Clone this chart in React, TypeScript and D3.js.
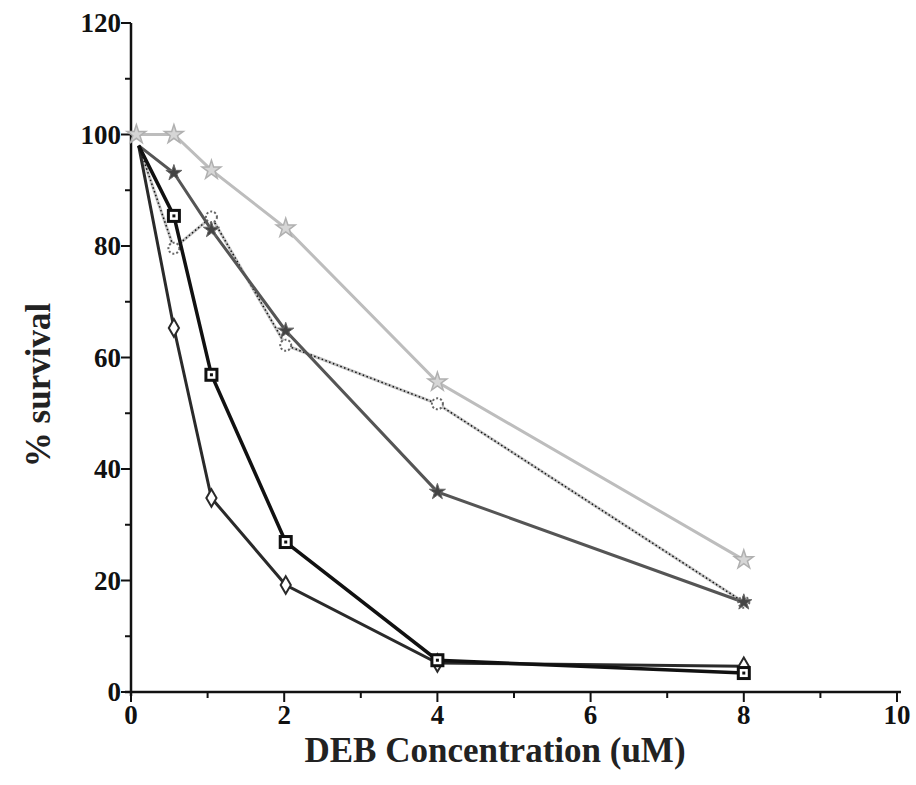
import React, { useEffect, useRef } from "react";
import * as d3 from "d3";

// dose positions (uM)
const dosesMain = [0.1, 0.56, 1.05, 2.02, 4, 8];
const dosesLight = [0.07, 0.56, 1.05, 2.02, 4, 8];

// % survival for each series
const diamondSeries = [98, 65.3, 34.8, 19.2, 5.2, 4.6];
const squareSeries = [98, 85.4, 56.9, 26.9, 5.7, 3.4];
const grayStarSeries = [98, 93.1, 82.9, 64.8, 35.9, 16.1];
const dottedSeries = [98, 79.6, 85.2, 62.2, 51.7, 16.1];
const lightSeries = [100, 100, 93.6, 83.2, 55.6, 23.7];

const xTicks = [0, 2, 4, 6, 8, 10];
const yTicks = [0, 20, 40, 60, 80, 100, 120];

const App = () => {
    const svgRef = useRef<SVGSVGElement>(null);

    useEffect(() => {
        const svg = d3.select(svgRef.current);
        svg.selectAll("*").remove();

        const x = d3.scaleLinear().domain([0, 10]).range([131, 897]);
        const y = d3.scaleLinear().domain([0, 120]).range([692, 23]);
        const font = "'Liberation Serif', 'Times New Roman', serif";

        const toPts = (xs: number[], ys: number[]) => ys.map((v, i) => ({ x: xs[i], y: v }));
        const line = d3
            .line<{ x: number; y: number }>()
            .x((d) => x(d.x))
            .y((d) => y(d.y));

        // axes
        const axisG = svg.append("g");
        axisG
            .append("line")
            .attr("x1", x(0))
            .attr("x2", x(0))
            .attr("y1", y(120))
            .attr("y2", y(0) + 4)
            .attr("stroke", "#111")
            .attr("stroke-width", 2.5);
        axisG
            .append("line")
            .attr("x1", x(0) - 6)
            .attr("x2", x(10) + 4)
            .attr("y1", y(0))
            .attr("y2", y(0))
            .attr("stroke", "#111")
            .attr("stroke-width", 2.5);

        // y ticks (major + minor)
        axisG
            .selectAll(".ytick")
            .data(d3.range(0, 121, 10))
            .join("line")
            .attr("x1", (d) => x(0) - (d % 20 === 0 ? 10 : 6))
            .attr("x2", x(0))
            .attr("y1", (d) => y(d))
            .attr("y2", (d) => y(d))
            .attr("stroke", "#111")
            .attr("stroke-width", 2);
        axisG
            .selectAll(".ylab")
            .data(yTicks)
            .join("text")
            .attr("x", x(0) - 10)
            .attr("y", (d) => y(d))
            .attr("dy", "0.35em")
            .attr("text-anchor", "end")
            .attr("font-family", font)
            .attr("font-weight", "bold")
            .attr("font-size", 27)
            .attr("fill", "#111")
            .text((d) => d);

        // x ticks (major + minor)
        axisG
            .selectAll(".xtick")
            .data(d3.range(0, 11, 1))
            .join("line")
            .attr("x1", (d) => x(d))
            .attr("x2", (d) => x(d))
            .attr("y1", y(0))
            .attr("y2", (d) => y(0) + (d % 2 === 0 ? 10 : 6))
            .attr("stroke", "#111")
            .attr("stroke-width", 2);
        axisG
            .selectAll(".xlab")
            .data(xTicks)
            .join("text")
            .attr("x", (d) => x(d))
            .attr("y", y(0) + 32)
            .attr("text-anchor", "middle")
            .attr("font-family", font)
            .attr("font-weight", "bold")
            .attr("font-size", 27)
            .attr("fill", "#111")
            .text((d) => d);

        // axis titles
        svg.append("text")
            .attr("x", 495)
            .attr("y", 762)
            .attr("text-anchor", "middle")
            .attr("font-family", font)
            .attr("font-weight", "bold")
            .attr("font-size", 35)
            .attr("fill", "#222")
            .text("DEB Concentration (uM)");
        svg.append("text")
            .attr("transform", "translate(50,385) rotate(-90)")
            .attr("text-anchor", "middle")
            .attr("font-family", font)
            .attr("font-weight", "bold")
            .attr("font-size", 35)
            .attr("fill", "#222")
            .text("% survival");

        // light gray series with star markers
        const light = toPts(dosesLight, lightSeries);
        svg.append("path").attr("d", line(light)).attr("fill", "none").attr("stroke", "#bdbdbd").attr("stroke-width", 3);
        const star = d3.symbol().type(d3.symbolStar).size(110);
        svg.selectAll(".lstar")
            .data(light)
            .join("path")
            .attr("transform", (d) => `translate(${x(d.x)},${y(d.y)})`)
            .attr("d", star())
            .attr("fill", "#d6d6d6")
            .attr("stroke", "#b0b0b0")
            .attr("stroke-width", 1.5);

        // dotted series with hollow dotted markers
        const dotted = toPts(dosesMain, dottedSeries);
        svg.append("path").attr("d", line(dotted)).attr("fill", "none").attr("stroke", "#c4c4c4").attr("stroke-width", 3);
        svg.append("path")
            .attr("d", line(dotted))
            .attr("fill", "none")
            .attr("stroke", "#111")
            .attr("stroke-width", 1.5)
            .attr("stroke-dasharray", "1.5,2.5");
        svg.selectAll(".dmark")
            .data(dotted.slice(1))
            .join("circle")
            .attr("cx", (d) => x(d.x))
            .attr("cy", (d) => y(d.y))
            .attr("r", 5.5)
            .attr("fill", "#fff")
            .attr("stroke", "#666")
            .attr("stroke-width", 2)
            .attr("stroke-dasharray", "2,2");

        // medium gray series with filled markers
        const gray = toPts(dosesMain, grayStarSeries);
        svg.append("path").attr("d", line(gray)).attr("fill", "none").attr("stroke", "#555").attr("stroke-width", 3);
        const smallStar = d3.symbol().type(d3.symbolStar).size(80);
        svg.selectAll(".gstar")
            .data(gray.slice(1))
            .join("path")
            .attr("transform", (d) => `translate(${x(d.x)},${y(d.y)})`)
            .attr("d", smallStar())
            .attr("fill", "#444")
            .attr("stroke", "#666")
            .attr("stroke-width", 1);

        // diamond series
        const diamonds = toPts(dosesMain, diamondSeries);
        svg.append("path").attr("d", line(diamonds)).attr("fill", "none").attr("stroke", "#2a2a2a").attr("stroke-width", 3);
        const diamond = d3.symbol().type(d3.symbolDiamond).size(90);
        svg.selectAll(".dia")
            .data(diamonds.slice(1))
            .join("path")
            .attr("transform", (d) => `translate(${x(d.x)},${y(d.y)})`)
            .attr("d", diamond())
            .attr("fill", "#fff")
            .attr("stroke", "#2a2a2a")
            .attr("stroke-width", 2);

        // square series
        const squares = toPts(dosesMain, squareSeries);
        svg.append("path").attr("d", line(squares)).attr("fill", "none").attr("stroke", "#111").attr("stroke-width", 3.5);
        svg.selectAll(".sq")
            .data(squares.slice(1))
            .join("rect")
            .attr("x", (d) => x(d.x) - 5.5)
            .attr("y", (d) => y(d.y) - 5.5)
            .attr("width", 11)
            .attr("height", 11)
            .attr("fill", "#fff")
            .attr("stroke", "#111")
            .attr("stroke-width", 3);
        svg.selectAll(".sqdot")
            .data(squares.slice(1))
            .join("rect")
            .attr("x", (d) => x(d.x) - 1.5)
            .attr("y", (d) => y(d.y) - 1.5)
            .attr("width", 3)
            .attr("height", 3)
            .attr("fill", "#111");
    }, []);

    return (
        <svg
            ref={svgRef}
            width={916}
            height={785}
            style={{ position: "absolute", left: 0, top: 0, background: "#fff" }}
        ></svg>
    );
};

export default App;
